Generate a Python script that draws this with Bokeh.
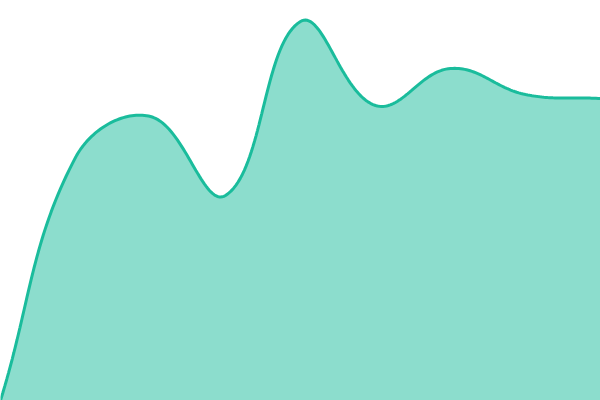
import numpy as np
from bokeh.plotting import figure
from bokeh.models import Range1d
from bokeh.embed import file_html
from bokeh.resources import INLINE

# data
x_index = [0, 1, 2, 3, 4, 5, 6, 7, 8]
values = [0, 60.75, 71, 51.25, 94.75, 73.75, 83, 76.5, 75.5]

LINE_COLOR = "#1abc9c"
W, H = 600, 400
X_MAX, Y_MAX = 8, 100
TENSION = 0.4


def smooth(xs, ys, samples=40):
    # spline with distance-weighted control points (tension 0.4), computed in screen units
    kx, ky = W / X_MAX, H / Y_MAX
    pts = np.column_stack([np.asarray(xs, float) * kx, np.asarray(ys, float) * ky])
    n = len(pts)
    prev_cp, next_cp = [], []
    for i in range(n):
        p0 = pts[max(i - 1, 0)]
        p1 = pts[i]
        p2 = pts[min(i + 1, n - 1)]
        d01 = np.hypot(*(p1 - p0))
        d12 = np.hypot(*(p2 - p1))
        s = d01 + d12
        fa = TENSION * d01 / s if s else 0
        fb = TENSION * d12 / s if s else 0
        c_prev = p1 - fa * (p2 - p0)
        c_next = p1 + fb * (p2 - p0)
        c_prev[1] = min(max(c_prev[1], 0), H)
        c_next[1] = min(max(c_next[1], 0), H)
        prev_cp.append(c_prev)
        next_cp.append(c_next)
    out = []
    for i in range(n - 1):
        a, b, c, d = pts[i], next_cp[i], prev_cp[i + 1], pts[i + 1]
        t = np.linspace(0, 1, samples, endpoint=(i == n - 2))[:, None]
        seg = (1 - t) ** 3 * a + 3 * (1 - t) ** 2 * t * b + 3 * (1 - t) * t ** 2 * c + t ** 3 * d
        out.append(seg)
    out = np.vstack(out)
    return out[:, 0] / kx, out[:, 1] / ky


sx, sy = smooth(x_index, values)

p = figure(width=W, height=H, output_backend="svg", toolbar_location=None,
           x_range=Range1d(0, X_MAX), y_range=Range1d(0, Y_MAX), min_border=0)
p.axis.visible = False
p.grid.visible = False
p.outline_line_color = None
p.background_fill_color = "white"
p.border_fill_color = "white"

p.varea(x=sx, y1=np.zeros_like(sy), y2=sy, fill_color=LINE_COLOR, fill_alpha=0.5)
p.line(sx, sy, line_color=LINE_COLOR, line_width=3)

open("out.html", "w").write(file_html(p, INLINE))
